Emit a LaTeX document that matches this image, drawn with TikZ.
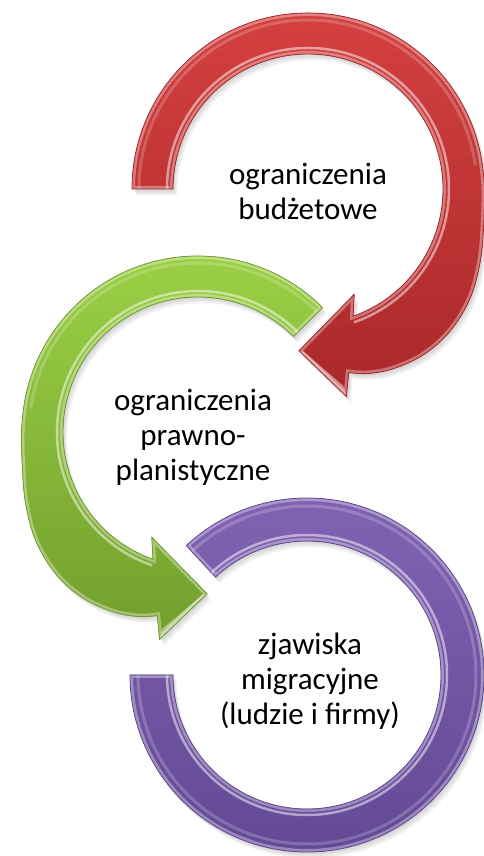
\documentclass[tikz,border=0pt]{standalone}
\usepackage{fontspec}
\setmainfont{Carlito}
\definecolor{redA}{RGB}{212,64,64}
\definecolor{redB}{RGB}{170,40,42}
\definecolor{grnA}{RGB}{156,210,70}
\definecolor{grnB}{RGB}{114,158,44}
\definecolor{purA}{RGB}{130,100,180}
\definecolor{purB}{RGB}{98,72,148}
\tikzset{
  lbl/.style={align=center, font=\fontsize{31}{35}\selectfont, inner sep=0pt, text=black},
  rim/.style={white, opacity=0.35, line width=6pt},
  gloss/.style={white, opacity=0.5, line width=2.5pt},
  sheen/.style={white, opacity=0.2, line width=3pt},
  facet/.style={white, opacity=0.45},
}
% ring outlines, drawn relative to each ring centre; the shafts flare out before the heads
\def\redpath{(180:176) arc[start angle=180,end angle=8,radius=176pt]
  -- plot[smooth,tension=0.6] coordinates {(8:176) (0:176.5) (-12:179.5) (-23:187) (-34:195.5) (-45:201) (-55:202) (-64.5:199) (-72:194) (-77.5:188)}
  -- (-79.5:211) -- (-93.2:162) -- (-66.3:115) -- (-70.5:135)
  arc[start angle=-70.5,end angle=180,radius=135pt] -- cycle}
\def\grnpath{(45:176) arc[start angle=45,end angle=172,radius=176pt]
  -- plot[smooth,tension=0.6] coordinates {(172:176) (180:176.5) (192:179.5) (203:187) (214:195.5) (225:201) (235:202) (244.5:199) (252:194) (257.5:188)}
  -- (259.5:211) -- (273.2:162) -- (246.3:115) -- (250.5:135)
  arc[start angle=250.5,end angle=45,radius=135pt] -- cycle}
\def\purpath{(133:177) arc[start angle=133,end angle=-180,radius=177pt] -- (-180:134) arc[start angle=-180,end angle=133,radius=134pt] -- cycle}
\begin{document}
\begin{tikzpicture}[x=1pt,y=1pt]
\useasboundingbox (0,0) rectangle (484,856);

% purple ring
\begin{scope}[shift={(307,181)}]
  \foreach \o in {1,...,6} {\fill[black,opacity=0.03,shift={(0.7*\o,-1.1*\o)}] \purpath;}
  \fill[top color=purA,bottom color=purB] \purpath;
  \begin{scope}
    \clip \purpath;
    \draw[rim] \purpath;
    \draw[gloss] (133:140) arc[start angle=133,end angle=-180,radius=140pt];
    \draw[sheen] (133:169) arc[start angle=133,end angle=-180,radius=169pt];
  \end{scope}
  \draw[purB,line width=0.8pt] \purpath;
\end{scope}

% green arrow
\begin{scope}[shift={(198,424)}]
  \foreach \o in {1,...,6} {\fill[black,opacity=0.03,shift={(0.7*\o,-1.1*\o)}] \grnpath;}
  \fill[top color=grnA,bottom color=grnB] \grnpath;
  \begin{scope}
    \clip \grnpath;
    \draw[rim] \grnpath;
    \draw[gloss] (45:141) arc[start angle=45,end angle=251,radius=141pt];
    \draw[sheen] (45:169) arc[start angle=45,end angle=172,radius=169pt];
    \fill[facet] (273.2:162) -- (259.5:211) -- (259.8:200) -- (271.5:163) -- cycle;
    \fill[facet] (246.3:115) -- (250.5:135) -- (249.2:136) -- (247.3:121) -- cycle;
  \end{scope}
  \draw[grnB,line width=0.8pt] \grnpath;
\end{scope}

% red arrow
\begin{scope}[shift={(308,667)}]
  \foreach \o in {1,...,6} {\fill[black,opacity=0.03,shift={(0.7*\o,-1.1*\o)}] \redpath;}
  \fill[top color=redA,bottom color=redB] \redpath;
  \begin{scope}
    \clip \redpath;
    \draw[rim] \redpath;
    \draw[gloss] (180:141) arc[start angle=180,end angle=-71,radius=141pt];
    \draw[sheen] (180:169) arc[start angle=180,end angle=8,radius=169pt];
    \fill[facet] (-93.2:162) -- (-79.5:211) -- (-79.8:200) -- (-91.5:163) -- cycle;
    \fill[facet] (-66.3:115) -- (-70.5:135) -- (-69.2:136) -- (-67.3:121) -- cycle;
  \end{scope}
  \draw[redB,line width=0.8pt] \redpath;
\end{scope}

% labels
\node[lbl] (tRed) at (308,664.5) {ograniczenia\\bud\.zetowe};
\node[lbl] (tGrn) at (193,418.5) {ograniczenia\\prawno-\\planistyczne};
\node[lbl] (tPur) at (310,174.5) {zjawiska\\migracyjne\\(ludzie i firmy)};
\end{tikzpicture}
\end{document}
